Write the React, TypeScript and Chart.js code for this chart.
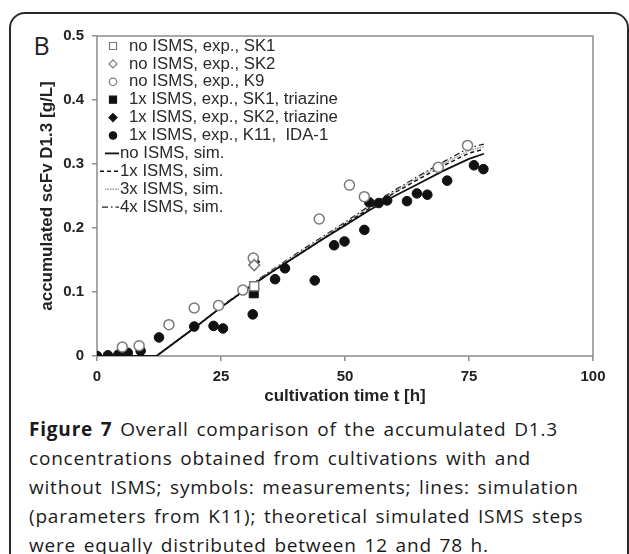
import React, { useEffect, useRef } from 'react';
import { Chart, registerables } from 'chart.js';

Chart.register(...registerables);

// ---- data ----
const xTickValues = [0, 25, 50, 75, 100];
const yTickValues = [0, 0.1, 0.2, 0.3, 0.4, 0.5];

const sk1Time = [31.7];
const sk1Conc = [0.109];

const sk2Time = [31.7];
const sk2Conc = [0.142];

const k9Time = [5.1, 8.5, 14.5, 19.6, 24.5, 29.4, 31.5, 44.8, 50.9, 53.9, 68.8, 74.7];
const k9Conc = [0.014, 0.016, 0.049, 0.075, 0.079, 0.103, 0.153, 0.214, 0.267, 0.249, 0.295, 0.329];

const sk1TriTime = [31.6];
const sk1TriConc = [0.098];

const sk2TriTime = [31.8];
const sk2TriConc = [0.147];

const k11Time = [0, 2.2, 4.3, 6.2, 8.8, 12.5, 19.6, 23.5, 25.4, 31.4, 35.9, 37.9, 43.9, 47.8, 49.9, 53.9, 54.9, 56.8, 58.5, 62.5, 64.5, 66.6, 70.6, 76.0, 77.9];
const k11Conc = [0, 0.001, 0.002, 0.005, 0.008, 0.029, 0.046, 0.047, 0.043, 0.065, 0.12, 0.137, 0.118, 0.173, 0.179, 0.197, 0.24, 0.239, 0.243, 0.242, 0.254, 0.252, 0.274, 0.298, 0.292];

const simTime = [0, 12, 20, 25, 30, 35, 40, 45, 50, 55, 60, 65, 70, 75, 78];
const simNo = [0, 0, 0.046, 0.076, 0.104, 0.13, 0.155, 0.18, 0.204, 0.228, 0.25, 0.27, 0.29, 0.308, 0.316];
const sim1x = [0, 0, 0.046, 0.076, 0.104, 0.13, 0.155, 0.18, 0.206, 0.231, 0.255, 0.277, 0.298, 0.317, 0.323];
const sim3x = [0, 0, 0.046, 0.076, 0.105, 0.132, 0.157, 0.182, 0.207, 0.233, 0.257, 0.28, 0.301, 0.321, 0.327];
const sim4x = [0, 0, 0.046, 0.077, 0.106, 0.133, 0.159, 0.184, 0.209, 0.235, 0.259, 0.282, 0.304, 0.325, 0.331];

const legendLabels = [
  'no ISMS, exp., SK1',
  'no ISMS, exp., SK2',
  'no ISMS, exp., K9',
  '1x ISMS, exp., SK1, triazine',
  '1x ISMS, exp., SK2, triazine',
  '1x ISMS, exp., K11,  IDA-1',
  'no ISMS, sim.',
  '1x ISMS, sim.',
  '3x ISMS, sim.',
  '4x ISMS, sim.',
];

const toPts = (xs: number[], ys: number[]) => xs.map((x, i) => ({ x, y: ys[i] }));

const OPEN = '#7a7a7a';
const FILL = '#111111';
const FONT = '"Liberation Sans", Arial, Helvetica, sans-serif';

const framePlugin = {
  id: 'frame',
  beforeDatasetsDraw(chart: any) {
    const { ctx, chartArea: a } = chart;
    ctx.save();
    ctx.strokeStyle = '#8c8c8c';
    ctx.lineWidth = 1.5;
    ctx.strokeRect(a.left, a.top, a.right - a.left, a.bottom - a.top);
    ctx.restore();
  },
};

const legendPlugin = {
  id: 'customLegend',
  afterDraw(chart: any) {
    const { ctx } = chart;
    const datasets = chart.data.datasets;
    const rowY0 = 46;
    const rowH = 17.9;
    ctx.save();
    ctx.font = `16.8px ${FONT}`;
    ctx.textBaseline = 'middle';
    ctx.fillStyle = '#2a2a2a';
    datasets.forEach((ds: any, i: number) => {
      const y = rowY0 + i * rowH;
      if (ds.showLine) {
        ctx.save();
        ctx.strokeStyle = ds.borderColor;
        ctx.lineWidth = ds.borderWidth;
        ctx.setLineDash(ds.borderDash || []);
        ctx.beginPath();
        ctx.moveTo(ds.legendLineStart, y);
        ctx.lineTo(119, y);
        ctx.stroke();
        ctx.restore();
        ctx.fillText(ds.label, 120, y);
      } else {
        const cx = 113;
        ctx.save();
        ctx.lineWidth = 1.2;
        ctx.strokeStyle = ds.borderColor;
        ctx.fillStyle = ds.backgroundColor;
        ctx.beginPath();
        if (ds.pointStyle === 'rect') {
          ctx.rect(cx - 3.5, y - 3.5, 7, 7);
        } else if (ds.pointStyle === 'rectRot') {
          ctx.moveTo(cx, y - 4);
          ctx.lineTo(cx + 4, y);
          ctx.lineTo(cx, y + 4);
          ctx.lineTo(cx - 4, y);
          ctx.closePath();
        } else {
          ctx.arc(cx, y, 3.7, 0, Math.PI * 2);
        }
        ctx.fill();
        ctx.stroke();
        ctx.restore();
        ctx.fillText(ds.label, 129, y);
      }
    });
    ctx.restore();
  },
};

export default function App() {
  const ref = useRef<HTMLCanvasElement | null>(null);

  useEffect(() => {
    if (!ref.current) return;
    const scatter = (label: string, xs: number[], ys: number[], style: string, open: boolean, r: number) => ({
      label,
      data: toPts(xs, ys),
      showLine: false,
      pointStyle: style,
      pointRadius: r,
      pointBorderWidth: open ? 1.5 : 1,
      borderColor: open ? OPEN : FILL,
      backgroundColor: open ? '#ffffff' : FILL,
      order: 0,
    });
    const line = (label: string, ys: number[], color: string, width: number, dash: number[], start: number) => ({
      label,
      data: toPts(simTime, ys),
      showLine: true,
      pointRadius: 0,
      borderColor: color,
      backgroundColor: color,
      borderWidth: width,
      borderDash: dash,
      tension: 0,
      fill: false,
      order: 10,
      legendLineStart: start,
    });

    const chart = new Chart(ref.current, {
      type: 'scatter',
      data: {
        datasets: [
          scatter(legendLabels[0], sk1Time, sk1Conc, 'rect', true, 6.4),
          scatter(legendLabels[1], sk2Time, sk2Conc, 'rectRot', true, 5.5),
          scatter(legendLabels[2], k9Time, k9Conc, 'circle', true, 5),
          scatter(legendLabels[3], sk1TriTime, sk1TriConc, 'rect', false, 6.4),
          scatter(legendLabels[4], sk2TriTime, sk2TriConc, 'rectRot', false, 5),
          scatter(legendLabels[5], k11Time, k11Conc, 'circle', false, 4.8),
          line(legendLabels[6], simNo, '#111111', 1.8, [], 105),
          line(legendLabels[7], sim1x, '#111111', 1.4, [4, 3], 100),
          line(legendLabels[8], sim3x, '#9a9a9a', 1.5, [1.5, 1], 105),
          line(legendLabels[9], sim4x, '#222222', 1.3, [6, 3, 1.5, 3], 102),
        ] as any,
      },
      options: {
        responsive: false,
        animation: false,
        devicePixelRatio: 1,
        layout: { padding: { left: 0, right: 36, top: 36, bottom: 0 } },
        plugins: {
          legend: { display: false },
          tooltip: { enabled: false },
        },
        scales: {
          x: {
            type: 'linear',
            min: 0,
            max: 100,
            afterFit: (s: any) => { s.height = 54; },
            afterBuildTicks: (s: any) => { s.ticks = xTickValues.map((v) => ({ value: v })); },
            ticks: {
              color: '#222',
              font: { family: FONT, size: 15, weight: 'bold' },
              padding: 7,
              maxRotation: 0,
            },
            grid: { drawOnChartArea: false, drawTicks: true, tickLength: 5, color: '#8c8c8c', lineWidth: 1.5 },
            border: { display: false },
            title: {
              display: true,
              text: 'cultivation time t [h]',
              color: '#222',
              font: { family: FONT, size: 17, weight: 'bold' },
              padding: { top: 0, bottom: 3 },
            },
          },
          y: {
            type: 'linear',
            min: 0,
            max: 0.5,
            afterFit: (s: any) => { s.width = 97; },
            afterBuildTicks: (s: any) => { s.ticks = yTickValues.map((v) => ({ value: v })); },
            ticks: {
              color: '#222',
              font: { family: FONT, size: 15, weight: 'bold' },
              padding: 8,
              callback: (v: any) => String(Math.round(Number(v) * 10) / 10),
            },
            grid: { drawOnChartArea: false, drawTicks: true, tickLength: 5, color: '#8c8c8c', lineWidth: 1.5 },
            border: { display: false },
            title: {
              display: true,
              text: 'accumulated scFv D1.3 [g/L]',
              color: '#222',
              font: { family: FONT, size: 17, weight: 'bold' },
              padding: { top: 37, bottom: 0 },
            },
          },
        },
      } as any,
      plugins: [framePlugin, legendPlugin],
    });
    return () => chart.destroy();
  }, []);

  return (
    <div style={{ position: 'absolute', left: 0, top: 0, width: 629, height: 554, overflow: 'hidden', background: '#fff' }}>
      <div
        style={{
          position: 'absolute',
          left: 9,
          top: 12,
          width: 620,
          height: 600,
          border: '2px solid #2a2a2a',
          borderRadius: 16,
          boxSizing: 'border-box',
        }}
      />
      <div
        style={{
          position: 'absolute',
          left: 33.5,
          top: 32.5,
          fontFamily: '"Open Sans", sans-serif',
          fontSize: 25,
          lineHeight: '25px',
          color: '#222',
        }}
      >
        B
      </div>
      <canvas ref={ref} width={629} height={410} style={{ position: 'absolute', left: 0, top: 0, width: 629, height: 410 }} />
      <div
        style={{
          position: 'absolute',
          left: 29,
          top: 415,
          fontFamily: '"Open Sans", sans-serif',
          fontSize: 19,
          lineHeight: '29px',
          letterSpacing: '0.8px',
          wordSpacing: '2px',
          color: '#1a1a1a',
          whiteSpace: 'nowrap',
        }}
      >
        <div><b>Figure 7</b> Overall comparison of the accumulated D1.3</div>
        <div>concentrations obtained from cultivations with and</div>
        <div>without ISMS; symbols: measurements; lines: simulation</div>
        <div>(parameters from K11); theoretical simulated ISMS steps</div>
        <div>were equally distributed between 12 and 78 h.</div>
      </div>
    </div>
  );
}
